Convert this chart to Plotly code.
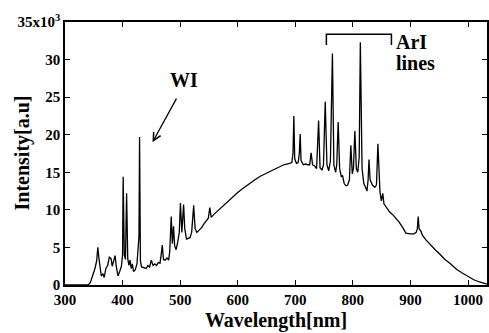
import plotly.graph_objects as go

# Spectrum (wavelength nm, intensity counts)
wavelength = [300, 340, 344, 348, 352, 355, 357, 359, 361, 363, 366, 368, 371, 374, 377, 380, 382, 384, 387, 389,
              392, 395, 398, 400, 401, 403, 405, 407, 409, 411, 413, 415, 417, 419, 422, 425, 427, 428.5, 429.5, 431,
              433, 437, 441, 444, 447, 450, 453, 456, 459, 462, 465, 467, 469, 471, 474, 477, 480, 482, 484.5, 486.5,
              488.5, 490.5, 493, 496, 498.5, 500.5, 503, 506, 508, 511, 514, 517, 520, 523.5, 526, 529, 533, 537, 541, 545,
              549, 551.5, 554, 560, 570, 580, 590, 600, 610, 620, 630, 640, 650, 660, 670, 680, 690, 694, 696, 697.5,
              699, 702, 705, 707, 708.5, 710, 714, 718, 722, 725, 727.5, 730, 734, 737, 740.5, 743, 746.5, 749, 752, 755,
              758, 761, 764.5, 767, 770, 772, 774.5, 777, 780, 782, 785, 788, 791, 794, 796.5, 799, 801, 803.5, 806, 808.5,
              811, 813, 816, 819, 822, 824.5, 826.5, 828, 830, 834, 838, 841, 843.5, 847, 849.5, 852, 854, 858, 864, 870,
              880, 887, 892, 900, 906, 910, 912, 913.5, 915, 918, 921, 927, 935, 943, 950, 960, 970, 980, 990, 1000,
              1010, 1020, 1033]
intensity = [0, 0, 300, 1200, 2200, 3200, 5000, 3500, 2000, 1200, 1500, 1000, 2200, 2600, 3700, 3500, 2500, 3000, 3900, 2500,
             1200, 1800, 2500, 4000, 14400, 4000, 3400, 12200, 3500, 2600, 3300, 2200, 2800, 1800, 2000, 2800, 5500, 6500, 19700, 3200,
             2400, 2300, 2200, 2600, 2400, 3300, 2600, 2800, 2600, 3000, 2900, 4000, 5300, 3400, 3300, 3600, 3300, 4500, 9100, 5500,
             7800, 5200, 4700, 5800, 7000, 10900, 7000, 10700, 7500, 6100, 6200, 6300, 7000, 10600, 7500, 7000, 7300, 7600, 8100, 8500,
             8900, 10300, 9000, 9500, 10200, 11000, 11700, 12300, 12900, 13500, 14000, 14500, 14900, 15300, 15700, 16000, 16200, 16300, 17500, 22500,
             16800, 16200, 16300, 17500, 20100, 16600, 16000, 16100, 16000, 16000, 17600, 16000, 15800, 15500, 21900, 15600, 15300, 16000, 24400, 16000,
             15200, 16500, 30800, 16000, 15000, 16000, 21700, 15500, 14400, 14600, 13500, 13200, 13300, 14000, 18600, 14800, 15500, 20500, 15500, 15000,
             17000, 32300, 15500, 13500, 13000, 12500, 14000, 16700, 14000, 13300, 13000, 13300, 18800, 12500, 11200, 12200, 10800, 10300, 9700, 9300,
             8400, 7600, 6900, 6800, 6800, 7000, 7500, 9100, 7500, 7200, 6600, 6000, 5300, 4700, 4200, 3400, 2800, 2100, 1600, 1100,
             700, 400, 100]

x_ticks = [300, 400, 500, 600, 700, 800, 900, 1000]
x_ticktext = ["300", "400", "500", "600", "700", "800", "900", "1000"]
y_ticks = [0, 5000, 10000, 15000, 20000, 25000, 30000, 35000]
y_ticktext = ["0", "5", "10", "15", "20", "25", "30", "35x10<sup>3</sup>"]

FONT = "Liberation Serif"


def bold(items):
    return ["<b>%s</b>" % t for t in items]


fig = go.Figure()
fig.add_trace(go.Scatter(x=wavelength, y=intensity, mode="lines",
                         line=dict(color="black", width=1.3), showlegend=False, hoverinfo="skip"))

axis_common = dict(showgrid=False, zeroline=False, showline=True, linecolor="black", linewidth=1.5,
                   mirror="allticks", ticks="inside", ticklen=5, tickwidth=1.2, tickcolor="black",
                   tickfont=dict(family=FONT, size=15, color="black"))

fig.update_xaxes(range=[300, 1033], tickvals=x_ticks, ticktext=bold(x_ticktext), **axis_common,
                 title=dict(text="<b>Wavelength[nm]</b>", font=dict(family=FONT, size=20, color="black"),
                            standoff=6))
fig.update_yaxes(range=[0, 35000], tickvals=y_ticks, ticktext=bold(y_ticktext), **axis_common)

ann_font = dict(family=FONT, size=20, color="black")
# y-axis title placed as an annotation so it can sit where the reference has it
fig.add_annotation(x=0, y=0.5, xref="paper", yref="paper", xanchor="center", yanchor="middle",
                   xshift=-43, text="<b>Intensity[a.u]</b>", textangle=-90, showarrow=False, font=ann_font)
# WI arrow and label
fig.add_annotation(x=452, y=19000, ax=495, ay=25000, xref="x", yref="y", axref="x", ayref="y",
                   text="", showarrow=True, arrowhead=5, arrowsize=1.2, arrowwidth=1.3, arrowcolor="black")
fig.add_annotation(x=506, y=27300, text="<b>WI</b>", showarrow=False, font=ann_font, xanchor="center", yanchor="middle")
# ArI bracket
fig.add_shape(type="path", path="M 754,31950 L 754,33370 L 867,33370 L 867,31950",
              line=dict(color="black", width=1.5), xref="x", yref="y")
fig.add_annotation(x=872, y=32400, text="<b>ArI</b>", showarrow=False, font=ann_font, xanchor="left", yanchor="middle")
fig.add_annotation(x=872, y=29500, text="<b>lines</b>", showarrow=False, font=ann_font, xanchor="left", yanchor="middle")

fig.update_layout(width=489, height=333, margin=dict(l=65, r=0, t=22, b=48),
                  font=dict(family=FONT, color="black"),
                  paper_bgcolor="white", plot_bgcolor="white")
fig.write_html("out.html", config={"displayModeBar": False},
               post_script="document.body.style.margin='0';document.body.style.padding='0';")
